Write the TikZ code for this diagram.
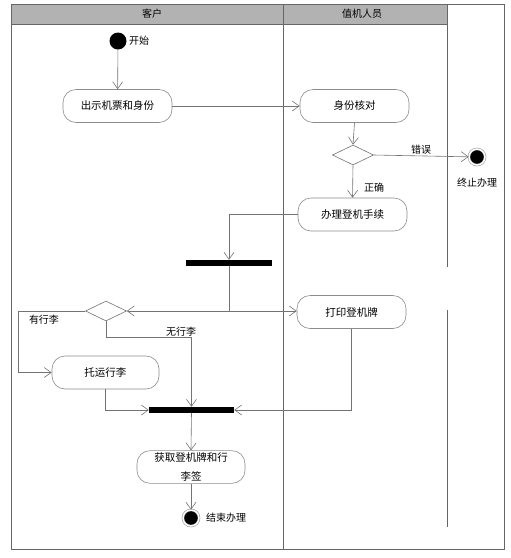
\documentclass[tikz,border=0pt]{standalone}
\usepackage{fontspec}
\setmainfont{Noto Sans CJK SC}
\usetikzlibrary{shapes.geometric,arrows.meta}
\tikzset{
  ln/.style={draw=black!55, line width=0.6pt},
  arr/.style={ln, -{Straight Barb[length=7pt,width=10pt]}},
  act/.style={draw=black!45, line width=0.6pt, rounded corners=13pt, minimum height=33pt, inner sep=2pt, font=\fontsize{10.5}{19}\selectfont, align=center},
  dec/.style={diamond, draw=black!55, line width=0.6pt, minimum width=41pt, minimum height=20pt, inner sep=0pt, aspect=2},
  bar/.style={fill=black, minimum height=6pt, inner sep=0pt},
  initn/.style={circle, fill=black, minimum size=17pt, inner sep=0pt},
  finn/.style={circle, fill=black, minimum size=16pt, inner sep=0pt, double=white, double distance=1.5pt, draw=black!45, line width=0.5pt},
  lbl/.style={font=\fontsize{10}{12}\selectfont, inner sep=1pt},
  lane/.style={draw=black!60, line width=0.6pt}
}
\begin{document}
\begin{tikzpicture}[x=1pt,y=-1pt]
\useasboundingbox (0,0) rectangle (511,558);
% swimlanes
\fill[black!30] (11,4) rectangle (448,24);
\draw[lane] (11,4) rectangle (504,549);
\draw[lane] (11,24) -- (448,24);
\draw[lane] (283,4) -- (283,549);
\draw[lane] (447,4) -- (447,267);
\draw[lane] (447,310) -- (447,527);
\node[lbl] (h1) at (152,14) {客户};
\node[lbl] (h2) at (362,14) {值机人员};
% nodes
\node[initn] (start) at (118,41) {};
\node[lbl, anchor=west] (lstart) at (128,41) {开始};
\node[act, minimum width=109pt] (a1) at (117.5,106) {出示机票和身份};
\node[act, minimum width=109pt] (a2) at (354.5,106) {身份核对};
\node[dec] (d1) at (353,155) {};
\node[finn] (endE) at (477,157) {};
\node[lbl] (lendE) at (477,183) {终止办理};
\node[lbl] (lerr) at (421,150) {错误};
\node[act, minimum width=109pt] (a3) at (352.5,214.5) {办理登机手续};
\node[lbl] (lok) at (374,188) {正确};
\node[bar, minimum width=86pt] (bar1) at (229,263) {};
\node[dec] (d2) at (106,311) {};
\coordinate (j) at (229,311);
\node[act, minimum width=109pt] (a4) at (351.5,312) {打印登机牌};
\coordinate (c1) at (18,311);
\node[lbl] (lyes) at (44,320) {有行李};
\coordinate (c2) at (191.5,337);
\node[lbl] (lno) at (181,332) {无行李};
\node[act, minimum width=107pt] (a5) at (105.5,372.5) {托运行李};
\node[bar, minimum width=85pt] (bar2) at (191.5,410) {};
\node[act, minimum width=108pt, minimum height=32pt] (a6) at (191,467) {获取登机牌和行\\李签};
\node[finn] (endB) at (191,518) {};
\node[lbl, anchor=west] (lendB) at (205,518) {结束办理};
% connectors
\draw[arr] (start) -- (a1);
\draw[arr] (a1.east) -- (a2.west);
\draw[arr] (a2.south) -- (d1.north);
\draw[arr] (d1.east) -- (endE);
\draw[arr] (d1.south) -- (a3.north);
\draw[arr] (a3.west) -| (bar1.north);
\draw[ln] (bar1.south) -- (j);
\draw[arr] (j) -- (d2.east);
\draw[arr] (j) -- (j -| a4.west);
\draw[arr] (d2.west) -- (c1) |- (a5.west);
\draw[ln] (d2.south) |- (c2);
\draw[arr] (c2) -- (bar2.north);
\draw[arr] (a5.south) |- (bar2.west);
\draw[arr] (a4.south) |- (bar2.east);
\draw[arr] (bar2.south) -- (a6.north);
\draw[arr] (a6.south) -- (endB);
\end{tikzpicture}
\end{document}
